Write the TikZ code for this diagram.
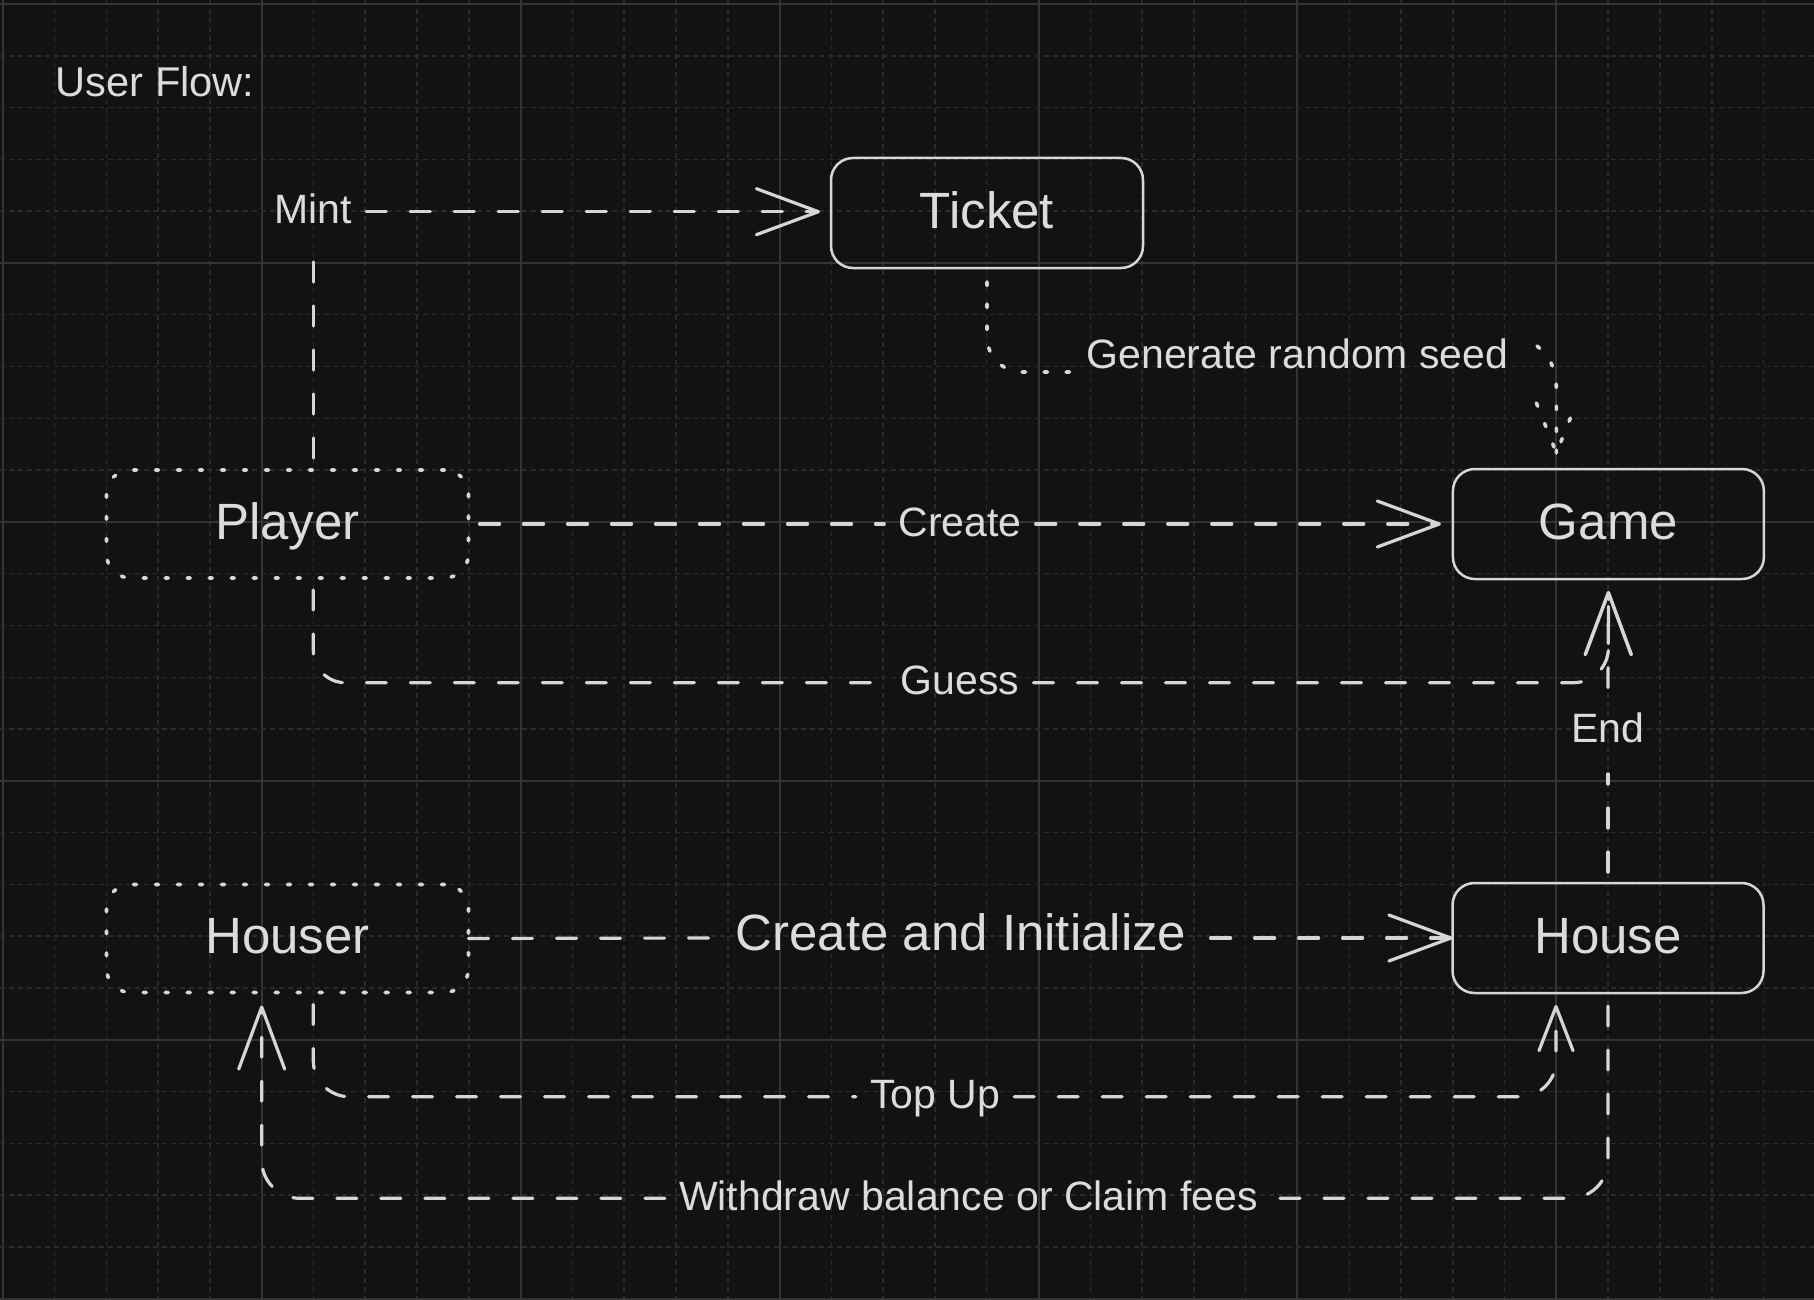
\documentclass[tikz,border=0pt]{standalone}
\usepackage{fontspec}
\setmainfont{Liberation Sans}
\usetikzlibrary{arrows.meta,calc}
\definecolor{bg}{HTML}{121212}
\definecolor{ink}{HTML}{D6D6D6}
\definecolor{txt}{HTML}{DCDCDC}
\definecolor{gridminor}{HTML}{2A2A2A}
\definecolor{gridmajor}{HTML}{343434}
\begin{document}
\begin{tikzpicture}[x=1pt,y=-1pt,
  solidbox/.style={draw=ink, line width=2.5pt, rounded corners=22pt, minimum width=311pt, minimum height=110pt, outer sep=0pt, inner sep=0pt, text=txt, font=\fontsize{51}{60}\selectfont, text height=37pt, text depth=7pt},
  dotbox/.style={draw=ink, line width=3.6pt, dash pattern=on 3pt off 19pt, line cap=round, rounded corners=24pt, minimum width=362pt, minimum height=108pt, outer sep=0pt, inner sep=0pt, text=txt, font=\fontsize{51}{60}\selectfont, text height=37pt, text depth=7pt},
  lbl/.style={text=txt, font=\fontsize{41}{48}\selectfont, text height=30pt, text depth=6pt, inner xsep=14pt, inner ysep=0pt},
  biglbl/.style={text=txt, font=\fontsize{51}{60}\selectfont, text height=37pt, text depth=13pt, inner xsep=24pt, inner ysep=0pt},
  dashline/.style={draw=ink, line width=3.2pt, dash pattern=on 20pt off 24pt, line cap=round},
  dotline/.style={draw=ink, line width=3.6pt, dash pattern=on 3.5pt off 18.5pt, line cap=round},
  arr/.style={-{Straight Barb[length=62pt,width=46pt,round]}},
  arrsmall/.style={-{Straight Barb[length=44pt,width=34pt,round]}},
  gmin/.style={draw=gridminor, line width=1.5pt, dash pattern=on 5pt off 4pt},
  gmaj/.style={draw=gridmajor, line width=2pt},
]
\useasboundingbox (0,0) rectangle (1814,1300);
\fill[bg] (0,0) rectangle (1814,1300);
% grid
\foreach \i in {0,...,34} {
  \pgfmathsetmacro{\gx}{2.7+51.79*\i}
  \pgfmathtruncatemacro{\m}{mod(\i,5)}
  \ifnum\m=0 \draw[gmaj] (\gx,0) -- (\gx,1300); \else \draw[gmin] (\gx,0) -- (\gx,1300); \fi
}
\foreach \j in {0,...,25} {
  \pgfmathsetmacro{\gy}{4+51.79*\j}
  \pgfmathtruncatemacro{\m}{mod(\j,5)}
  \ifnum\m=0 \draw[gmaj] (0,\gy) -- (1814,\gy); \else \draw[gmin] (0,\gy) -- (1814,\gy); \fi
}

% title
\node[text=txt, font=\fontsize{41.6}{48}\selectfont, anchor=base west, inner sep=0pt] (title) at (55.5,96.7) {User Flow:};

% main nodes
\node[solidbox, minimum width=312pt] (ticket) at (987,213) {Ticket};
\node[dotbox] (player) at (287.5,524) {Player};
\node[solidbox] (game) at (1608.4,524) {Game};
\node[dotbox] (houser) at (287.5,938.5) {Houser};
\node[solidbox] (house) at (1608,938) {House};

% labels
\node[lbl, inner ysep=27pt] (mint) at (313.3,211.7) {Mint};
\node[lbl] (gen) at (1297.5,356.7) {Generate random seed};
\node[lbl] (create) at (960,524) {Create};
\node[lbl] (guess) at (960,682.7) {Guess};
\node[lbl, inner ysep=25pt] (endl) at (1608,730.7) {End};
\node[biglbl] (cai) at (961,938) {Create and Initialize};
\node[lbl] (topup) at (935,1096.7) {Top Up};
\node[lbl] (withdraw) at (968.5,1198.3) {Withdraw balance or Claim fees};

% Mint
\draw[dashline] ($(player.north)+(25.8,-12)$) -- (mint.south);
\draw[dashline, arr, shorten >=11pt] (mint.east) -- (mint.east -| ticket.west);

% Generate random seed (dotted)
\coordinate (g1) at (1072,372);
\coordinate (g2) at (1537,346);
\coordinate (gtip) at ($(game.north)+(-52,-16)$);
\draw[dotline, rounded corners=35pt] ($(ticket.south)+(0,14)$) |- (g1);
\draw[dotline] (g2) .. controls (1552,358) and (1556.4,372) .. (1556.4,392) -- (gtip);
\draw[dotline] ($(gtip)+(-20,-50)$) -- (gtip) -- ($(gtip)+(20,-50)$);

% Create
\draw[dashline] ($(player.east)+(11,0)$) -- (create.west);
\draw[dashline, arr, shorten >=12pt] (create.east) -- (game.west);

% Guess
\draw[dashline, rounded corners=32pt] ($(player.south)+(25.8,12)$) |- (guess.west);
\draw[dashline, arr, rounded corners=35pt] (guess.east) -| ($(game.south)+(0,12)$);

% End
\draw[dashline] ($(house.north)+(0,-11)$) -- (endl.south);
\draw[dashline, arr] (endl.north) -- ($(game.south)+(0,12)$);

% Create and Initialize
\draw[dashline] (houser.east) -- (cai.west);
\draw[dashline, arr] (cai.east) -- (house.west);

% Top Up
\draw[dashline, rounded corners=36pt] ($(houser.south)+(25.8,12)$) |- (topup.west);
\draw[dashline, arrsmall, rounded corners=36pt] (topup.east) -| ($(house.south)+(-52,12)$);

% Withdraw
\draw[dashline, rounded corners=38pt] ($(house.south)+(0,13)$) |- (withdraw.east);
\draw[dashline, arr, rounded corners=38pt] (withdraw.west) -| ($(houser.south)+(-25.8,13)$);
\end{tikzpicture}
\end{document}
